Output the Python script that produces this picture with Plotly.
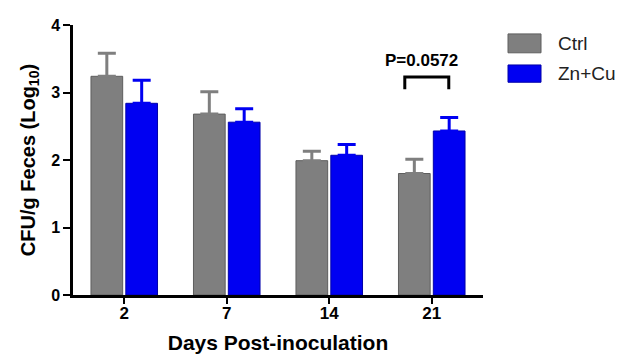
import plotly.graph_objects as go

days = ["2", "7", "14", "21"]
ctrl_mean = [3.24, 2.68, 1.99, 1.80]
ctrl_sem = [0.34, 0.33, 0.14, 0.21]
zncu_mean = [2.84, 2.56, 2.07, 2.43]
zncu_sem = [0.34, 0.20, 0.16, 0.20]
series_names = ["Ctrl", "Zn+Cu"]
y_ticks = [0, 1, 2, 3, 4]
p_label = "P=0.0572"

GRAY = "#7f7f7f"
BLUE = "#0000f2"
FONT = "Liberation Sans, Arial, sans-serif"

fig = go.Figure()
fig.add_trace(go.Bar(
    x=days, y=ctrl_mean, name=series_names[0],
    marker=dict(color=GRAY, line=dict(color="#5e5e5e", width=1)),
    error_y=dict(type="data", array=ctrl_sem, arrayminus=[0]*len(days), symmetric=False,
                 color=GRAY, thickness=3, width=9),
    showlegend=False,
))
fig.add_trace(go.Bar(
    x=days, y=zncu_mean, name=series_names[1],
    marker=dict(color=BLUE, line=dict(color="#0000a8", width=1)),
    error_y=dict(type="data", array=zncu_sem, arrayminus=[0]*len(days), symmetric=False,
                 color=BLUE, thickness=3, width=9),
    showlegend=False,
))

# significance bracket at day 21
fig.add_shape(type="path", xref="x", yref="y",
              path="M 2.737 3.05 L 2.737 3.23 L 3.166 3.23 L 3.166 3.05",
              line=dict(color="black", width=3))
fig.add_annotation(x=2.90, y=3.48, xref="x", yref="y", text="<b>" + p_label + "</b>",
                   showarrow=False, font=dict(family=FONT, size=17, color="black"))

# custom legend
legend_colors = [(GRAY, "#5e5e5e"), (BLUE, "#0000a8")]
legend_rows = [(0.967, 0.897), (0.852, 0.788)]
for (fc, lc), (y1, y0), name in zip(legend_colors, legend_rows, series_names):
    fig.add_shape(type="rect", xref="paper", yref="paper", x0=1.061, x1=1.1415, y0=y0, y1=y1,
                  fillcolor=fc, line=dict(color=lc, width=1))
    fig.add_annotation(x=1.178, y=(y0 + y1) / 2, xref="paper", yref="paper", text=name,
                       showarrow=False, xanchor="left", yanchor="middle",
                       font=dict(family=FONT, size=19, color="#222"))

# page body has an 8px default margin: size the figure so it fits the 623x354 window
fig.update_layout(
    width=615, height=346,
    margin=dict(l=65, r=140, t=17, b=59),
    paper_bgcolor="white", plot_bgcolor="white",
    barmode="group", bargap=0.32, bargroupgap=0.09,
    font=dict(family=FONT, color="black"),
)
fig.update_xaxes(
    type="category", range=[-0.5, 3.5],
    showline=True, linecolor="black", linewidth=2.5,
    ticks="outside", ticklen=6, tickwidth=2, tickcolor="black",
    ticklabelstandoff=-5,
    tickfont=dict(family=FONT, size=17, color="black", weight="bold"),
    title=dict(text="<b>Days Post-inoculation</b>", font=dict(family=FONT, size=21, color="black"), standoff=19),
    showgrid=False, automargin=False,
)
fig.update_yaxes(
    range=[0, 4], tickvals=y_ticks,
    showline=True, linecolor="black", linewidth=2.5,
    ticks="outside", ticklen=7, tickwidth=2, tickcolor="black",
    tickfont=dict(family=FONT, size=16, color="black", weight="bold"),
    title=dict(text="<b>CFU/g Feces (Log<sub>10</sub>)</b>", font=dict(family=FONT, size=20, color="black"), standoff=11),
    showgrid=False, zeroline=False, automargin=False,
)

fig.write_html("out.html")
